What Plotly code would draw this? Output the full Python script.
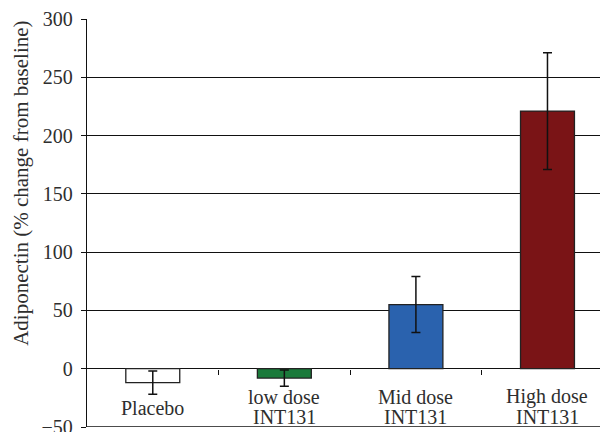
import plotly.graph_objects as go

categories = ["Placebo", "low dose<br>INT131", "Mid dose<br>INT131", "High dose<br>INT131"]
values = [-12, -8, 55, 221]
errors = [10, 7, 24, 50]
bar_colors = ["#ffffff", "#1b7a3b", "#2a62ae", "#7a1416"]
y_ticks = [-50, 0, 50, 100, 150, 200, 250, 300]

SERIF = "Liberation Serif"
TXT = "#2e2e2e"
xs = list(range(len(categories)))

fig = go.Figure()
fig.add_trace(go.Bar(
    x=xs, y=values, width=0.41,
    marker=dict(color=bar_colors, line=dict(color="#222222", width=1.3)),
    error_y=dict(type="data", array=errors, color="#111111", thickness=1.5, width=4.5),
    showlegend=False,
))

# category labels hang under the zero line, tighter line spacing than plotly's <br>
for x, label in zip(xs, categories):
    lines = label.split("<br>")
    shifts = [-39] if len(lines) == 1 else [-28, -48]
    for line, dy in zip(lines, shifts):
        fig.add_annotation(x=x, y=0, yshift=dy, text=line, showarrow=False,
                           yanchor="middle", font=dict(family=SERIF, size=20, color=TXT))

# y title sits a bit above the middle of the axis in the original
fig.add_annotation(xref="paper", yref="paper", x=-0.127, y=0.598, xanchor="center",
                   yanchor="middle", textangle=-90, showarrow=False,
                   text="Adiponectin (% change from baseline)",
                   font=dict(family=SERIF, size=21, color=TXT))

# page body has an 8px margin, so the figure is 8px smaller and margins shifted
fig.update_layout(
    width=600, height=424,
    margin=dict(l=79, r=0, t=11, b=5, autoexpand=False),
    paper_bgcolor="white", plot_bgcolor="white",
    font=dict(family=SERIF, size=20, color=TXT),
    xaxis=dict(
        range=[-0.5, 3.46], tickvals=[0.5, 1.5, 2.5], ticktext=["", "", ""],
        ticks="outside", ticklen=5, tickcolor="#111111", tickwidth=1.3,
        anchor="free", position=50 / 350, showgrid=False, showline=False,
        zeroline=False, automargin=False,
    ),
    yaxis=dict(
        range=[-50, 300], tickvals=y_ticks,
        ticktext=[("\u221250" if v < 0 else str(v)) for v in y_ticks],
        ticks="outside", ticklen=5, tickcolor="#111111", ticklabelstandoff=4,
        ticklabeloverflow="allow",
        tickfont=dict(family=SERIF, size=20, color=TXT),
        showgrid=True, gridcolor="#111111", gridwidth=1,
        showline=True, linecolor="#111111", linewidth=1.3,
        zeroline=True, zerolinecolor="#111111", zerolinewidth=1.3,
        automargin=False,
    ),
)
fig.add_shape(type="line", xref="paper", yref="y", x0=0, x1=1, y0=-50, y1=-50,
              line=dict(color="#111111", width=1.3))

fig.write_html("out.html")
